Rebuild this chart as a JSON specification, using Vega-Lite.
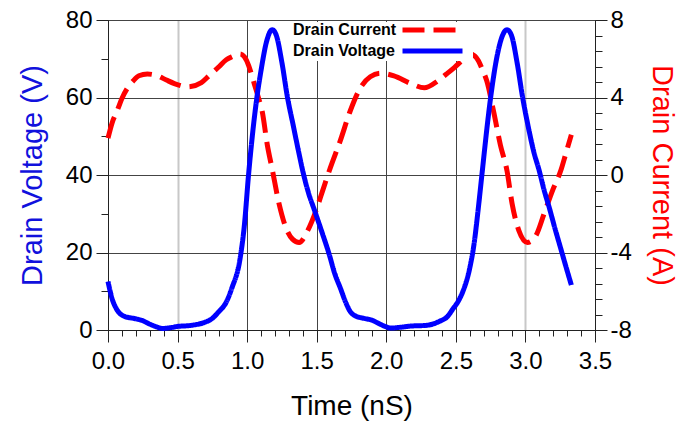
{
  "$schema": "https://vega.github.io/schema/vega-lite/v6.json",
  "width": 487,
  "height": 310,
  "autosize": {"type": "none"},
  "padding": {"left": 108, "top": 20, "right": 104, "bottom": 93},
  "background": "white",
  "config": {
    "view": {"stroke": "#444", "strokeWidth": 1},
    "axis": {
      "labelFont": "Liberation Sans",
      "labelFontSize": 24,
      "labelColor": "#000",
      "titleFont": "Liberation Sans",
      "titleFontWeight": "normal",
      "titleFontSize": 29,
      "domainColor": "#222",
      "tickColor": "#222",
      "labelOverlap": false,
      "labelFlush": false
    },
    "legend": {
      "orient": "none", "legendX": 184, "legendY": 2,
      "symbolType": "M-6,0H6", "symbolSize": 100, "symbolStrokeWidth": 5,
      "rowPadding": 1, "padding": 0, "fillColor": "white",
      "labelFont": "Liberation Sans", "labelFontSize": 16, "labelFontWeight": "bold", "labelColor": "#000",
      "symbolOffset": 132.5, "labelOffset": -147.5, "labelAlign": "left"
    }
  },
  "datasets": {
    "cur": [
      {"t": 0, "i": 1.9}, {"t": 0.03, "i": 2.7}, {"t": 0.065, "i": 3.3}, {"t": 0.1, "i": 3.95},
      {"t": 0.135, "i": 4.43}, {"t": 0.18, "i": 4.85}, {"t": 0.222, "i": 5.12}, {"t": 0.283, "i": 5.21},
      {"t": 0.356, "i": 5.12}, {"t": 0.42, "i": 4.9}, {"t": 0.477, "i": 4.72}, {"t": 0.574, "i": 4.55},
      {"t": 0.671, "i": 4.77}, {"t": 0.73, "i": 5.15}, {"t": 0.793, "i": 5.56}, {"t": 0.85, "i": 5.95},
      {"t": 0.89, "i": 6.1}, {"t": 0.95, "i": 6.25}, {"t": 0.98, "i": 6.1}, {"t": 1.011, "i": 5.65},
      {"t": 1.035, "i": 5.1}, {"t": 1.06, "i": 4.5}, {"t": 1.085, "i": 3.9}, {"t": 1.108, "i": 3.29},
      {"t": 1.145, "i": 1.55}, {"t": 1.181, "i": 0.27}, {"t": 1.229, "i": -1.47}, {"t": 1.277, "i": -2.69},
      {"t": 1.326, "i": -3.31}, {"t": 1.374, "i": -3.48}, {"t": 1.435, "i": -2.87}, {"t": 1.496, "i": -1.82},
      {"t": 1.544, "i": -0.78}, {"t": 1.593, "i": 0.27}, {"t": 1.63, "i": 1.0}, {"t": 1.667, "i": 1.72},
      {"t": 1.74, "i": 3.29}, {"t": 1.814, "i": 4.5}, {"t": 1.885, "i": 5.07}, {"t": 1.958, "i": 5.25},
      {"t": 2.055, "i": 5.12}, {"t": 2.176, "i": 4.72}, {"t": 2.273, "i": 4.5}, {"t": 2.37, "i": 4.86},
      {"t": 2.43, "i": 5.2}, {"t": 2.491, "i": 5.56}, {"t": 2.55, "i": 5.95}, {"t": 2.601, "i": 6.26},
      {"t": 2.635, "i": 6.15}, {"t": 2.662, "i": 5.9}, {"t": 2.69, "i": 5.45}, {"t": 2.722, "i": 4.86},
      {"t": 2.771, "i": 3.29}, {"t": 2.82, "i": 1.55}, {"t": 2.868, "i": 0.2}, {"t": 2.904, "i": -1.47},
      {"t": 2.953, "i": -2.87}, {"t": 3.014, "i": -3.48}, {"t": 3.075, "i": -3.13}, {"t": 3.135, "i": -1.98},
      {"t": 3.196, "i": -0.78}, {"t": 3.256, "i": 0.27}, {"t": 3.29, "i": 1.1}, {"t": 3.33, "i": 2.08}
    ],
    "volt": [
      {"t": 0, "v": 12.5}, {"t": 0.03, "v": 8}, {"t": 0.06, "v": 5.5}, {"t": 0.113, "v": 3.6},
      {"t": 0.198, "v": 2.9}, {"t": 0.25, "v": 2.4}, {"t": 0.295, "v": 1.6}, {"t": 0.35, "v": 0.8},
      {"t": 0.392, "v": 0.4}, {"t": 0.45, "v": 0.6}, {"t": 0.497, "v": 0.9}, {"t": 0.599, "v": 1.2},
      {"t": 0.696, "v": 2.0}, {"t": 0.75, "v": 3.0}, {"t": 0.793, "v": 4.6}, {"t": 0.85, "v": 7.2},
      {"t": 0.89, "v": 10.8}, {"t": 0.95, "v": 18.6}, {"t": 0.98, "v": 27}, {"t": 1.01, "v": 40},
      {"t": 1.04, "v": 51}, {"t": 1.07, "v": 60}, {"t": 1.1, "v": 67}, {"t": 1.14, "v": 74.5},
      {"t": 1.18, "v": 77.5}, {"t": 1.21, "v": 76}, {"t": 1.25, "v": 69}, {"t": 1.29, "v": 60},
      {"t": 1.33, "v": 53}, {"t": 1.37, "v": 46}, {"t": 1.4, "v": 41}, {"t": 1.44, "v": 35.5},
      {"t": 1.485, "v": 30.8}, {"t": 1.54, "v": 25}, {"t": 1.59, "v": 19.5}, {"t": 1.63, "v": 14.5},
      {"t": 1.67, "v": 10.8}, {"t": 1.71, "v": 7}, {"t": 1.74, "v": 4.8}, {"t": 1.78, "v": 3.6},
      {"t": 1.84, "v": 3.0}, {"t": 1.9, "v": 2.5}, {"t": 1.95, "v": 1.6}, {"t": 2.0, "v": 0.8},
      {"t": 2.03, "v": 0.5}, {"t": 2.1, "v": 0.7}, {"t": 2.17, "v": 1.0}, {"t": 2.29, "v": 1.2},
      {"t": 2.38, "v": 2.2}, {"t": 2.44, "v": 3.5}, {"t": 2.48, "v": 5.5}, {"t": 2.52, "v": 7.6},
      {"t": 2.55, "v": 9.9}, {"t": 2.6, "v": 16}, {"t": 2.63, "v": 22}, {"t": 2.66, "v": 31},
      {"t": 2.69, "v": 41}, {"t": 2.72, "v": 51}, {"t": 2.75, "v": 60}, {"t": 2.79, "v": 69.5},
      {"t": 2.83, "v": 75.5}, {"t": 2.868, "v": 77.5}, {"t": 2.9, "v": 76}, {"t": 2.94, "v": 69},
      {"t": 2.98, "v": 60}, {"t": 3.02, "v": 52.5}, {"t": 3.06, "v": 46}, {"t": 3.1, "v": 41},
      {"t": 3.135, "v": 36}, {"t": 3.172, "v": 31.5}, {"t": 3.21, "v": 26.5}, {"t": 3.25, "v": 21.5},
      {"t": 3.29, "v": 16.5}, {"t": 3.33, "v": 11.6}
    ]
  },
  "layer": [
    {
      "data": {"name": "cur"},
      "mark": {"type": "line", "interpolate": "monotone", "strokeWidth": 5, "strokeCap": "butt"},
      "encoding": {
        "x": {
          "field": "t", "type": "quantitative",
          "scale": {"domain": [0, 3.5], "nice": false},
          "axis": {
            "title": "Time (nS)",
            "titleFontSize": 28,
            "titlePadding": 19,
            "labelPadding": 7,
            "values": [0,0.1,0.2,0.3,0.4,0.5,0.6,0.7,0.8,0.9,1,1.1,1.2,1.3,1.4,1.5,1.6,1.7,1.8,1.9,2,2.1,2.2,2.3,2.4,2.5,2.6,2.7,2.8,2.9,3,3.1,3.2,3.3,3.4,3.5],
            "labelExpr": "abs(datum.value*2-round(datum.value*2))<0.01 ? format(datum.value, '.1f') : ''",
            "tickSize": {"condition": {"test": "abs(datum.value*2-round(datum.value*2))<0.01", "value": 12}, "value": 6},
            "grid": true,
            "gridColor": {"condition": {"test": "abs(datum.value-0.5)<0.01 || abs(datum.value-3)<0.01", "value": "#c8c8c8"}, "value": "#444"},
            "gridWidth": {"condition": {"test": "abs(datum.value-0.5)<0.01 || abs(datum.value-3)<0.01", "value": 2}, "value": 1},
            "gridOpacity": {"condition": {"test": "abs(datum.value*2-round(datum.value*2))<0.01", "value": 1}, "value": 0}
          }
        },
        "y": {
          "field": "i", "type": "quantitative",
          "scale": {"domain": [-8, 8], "nice": false, "zero": false},
          "axis": {
            "orient": "right",
            "title": "Drain Current (A)",
            "titleColor": "#ff0000",
            "titlePadding": 15,
            "labelPadding": 3,
            "values": [-8,-7.2,-6.4,-5.6,-4.8,-4,-3.2,-2.4,-1.6,-0.8,0,0.8,1.6,2.4,3.2,4,4.8,5.6,6.4,7.2,8],
            "labelExpr": "abs(datum.value/4-round(datum.value/4))<0.01 ? '' + round(datum.value) : ''",
            "tickSize": {"condition": {"test": "abs(datum.value/4-round(datum.value/4))<0.01", "value": 12}, "value": 7},
            "grid": false
          }
        },
        "color": {
          "datum": "Drain Current",
          "scale": {"domain": ["Drain Current", "Drain Voltage"], "range": ["#ff0000", "#0000ff"]},
          "legend": {"title": null}
        },
        "strokeDash": {
          "datum": "Drain Current",
          "scale": {"domain": ["Drain Current", "Drain Voltage"], "range": [[22, 9], [1, 0]]},
          "legend": {"title": null}
        }
      }
    },
    {
      "data": {"name": "volt"},
      "mark": {"type": "line", "interpolate": "monotone", "strokeWidth": 5, "strokeCap": "butt"},
      "encoding": {
        "x": {
          "field": "t", "type": "quantitative",
          "scale": {"domain": [0, 3.5], "nice": false},
          "axis": {
            "title": "Time (nS)",
            "titleFontSize": 28,
            "titlePadding": 19,
            "labelPadding": 7,
            "values": [0,0.1,0.2,0.3,0.4,0.5,0.6,0.7,0.8,0.9,1,1.1,1.2,1.3,1.4,1.5,1.6,1.7,1.8,1.9,2,2.1,2.2,2.3,2.4,2.5,2.6,2.7,2.8,2.9,3,3.1,3.2,3.3,3.4,3.5],
            "labelExpr": "abs(datum.value*2-round(datum.value*2))<0.01 ? format(datum.value, '.1f') : ''",
            "tickSize": {"condition": {"test": "abs(datum.value*2-round(datum.value*2))<0.01", "value": 12}, "value": 6},
            "grid": true,
            "gridColor": {"condition": {"test": "abs(datum.value-0.5)<0.01 || abs(datum.value-3)<0.01", "value": "#c8c8c8"}, "value": "#444"},
            "gridWidth": {"condition": {"test": "abs(datum.value-0.5)<0.01 || abs(datum.value-3)<0.01", "value": 2}, "value": 1},
            "gridOpacity": {"condition": {"test": "abs(datum.value*2-round(datum.value*2))<0.01", "value": 1}, "value": 0}
          }
        },
        "y": {
          "field": "v", "type": "quantitative",
          "scale": {"domain": [0, 80], "nice": false},
          "axis": {
            "orient": "left",
            "title": "Drain Voltage (V)",
            "titleColor": "#1111dd",
            "titlePadding": 18,
            "labelPadding": 4,
            "values": [0,10,20,30,40,50,60,70,80],
            "labelExpr": "datum.value % 20 == 0 ? datum.label : ''",
            "tickSize": {"condition": {"test": "datum.value % 20 == 0", "value": 12}, "value": 7},
            "grid": true,
            "gridColor": "#444",
            "gridOpacity": {"condition": {"test": "datum.value % 20 == 0", "value": 1}, "value": 0}
          }
        },
        "color": {
          "datum": "Drain Voltage",
          "scale": {"domain": ["Drain Current", "Drain Voltage"], "range": ["#ff0000", "#0000ff"]},
          "legend": {"title": null}
        },
        "strokeDash": {
          "datum": "Drain Voltage",
          "scale": {"domain": ["Drain Current", "Drain Voltage"], "range": [[22, 9], [1, 0]]},
          "legend": {"title": null}
        }
      }
    }
  ],
  "resolve": {"scale": {"y": "independent"}}
}
